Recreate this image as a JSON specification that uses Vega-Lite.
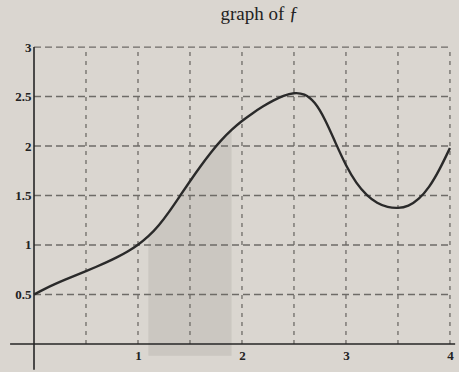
{
  "$schema": "https://vega.github.io/schema/vega-lite/v6.json",
  "width": 459,
  "height": 342,
  "autosize": {"type": "none"},
  "padding": {"top": 30, "left": 0, "right": 0, "bottom": 0},
  "background": "#dad6d0",
  "config": {
    "view": {"stroke": null},
    "font": "Liberation Serif"
  },
  "title": {
    "text": "graph of ƒ",
    "font": "Liberation Serif",
    "fontSize": 19,
    "fontWeight": "normal",
    "color": "#222222",
    "anchor": "middle",
    "dx": 30,
    "offset": 6
  },
  "datasets": {
    "curve": [
      {"x": 0.0, "y": 0.50}, {"x": 0.1, "y": 0.555}, {"x": 0.2, "y": 0.605},
      {"x": 0.3, "y": 0.65}, {"x": 0.4, "y": 0.693}, {"x": 0.5, "y": 0.736},
      {"x": 0.6, "y": 0.78}, {"x": 0.7, "y": 0.826}, {"x": 0.8, "y": 0.876},
      {"x": 0.9, "y": 0.933}, {"x": 1.0, "y": 1.0}, {"x": 1.1, "y": 1.085},
      {"x": 1.2, "y": 1.195}, {"x": 1.3, "y": 1.335}, {"x": 1.4, "y": 1.49},
      {"x": 1.5, "y": 1.645}, {"x": 1.6, "y": 1.795}, {"x": 1.7, "y": 1.935},
      {"x": 1.8, "y": 2.06}, {"x": 1.9, "y": 2.165}, {"x": 2.0, "y": 2.255},
      {"x": 2.1, "y": 2.33}, {"x": 2.2, "y": 2.40}, {"x": 2.3, "y": 2.46},
      {"x": 2.4, "y": 2.51}, {"x": 2.5, "y": 2.54}, {"x": 2.6, "y": 2.53},
      {"x": 2.7, "y": 2.45}, {"x": 2.8, "y": 2.27}, {"x": 2.9, "y": 2.03},
      {"x": 3.0, "y": 1.80}, {"x": 3.1, "y": 1.62}, {"x": 3.2, "y": 1.50},
      {"x": 3.3, "y": 1.42}, {"x": 3.4, "y": 1.38}, {"x": 3.5, "y": 1.37},
      {"x": 3.6, "y": 1.39}, {"x": 3.7, "y": 1.46}, {"x": 3.8, "y": 1.58},
      {"x": 3.9, "y": 1.76}, {"x": 4.0, "y": 1.98}
    ],
    "gridX": [
      {"gx": 0.5}, {"gx": 1}, {"gx": 1.5}, {"gx": 2},
      {"gx": 2.5}, {"gx": 3}, {"gx": 3.5}, {"gx": 4}
    ],
    "gridY": [
      {"gy": 0.5}, {"gy": 1}, {"gy": 1.5}, {"gy": 2}, {"gy": 2.5}, {"gy": 3}
    ]
  },
  "layer": [
    {
      "description": "pencil shading under the curve",
      "data": {"name": "curve"},
      "transform": [{"filter": "datum.x >= 1.05 && datum.x <= 1.9"}],
      "mark": {"type": "area", "color": "#a9a5a0", "opacity": 0.3, "interpolate": "basis"},
      "encoding": {
        "x": {"field": "x", "type": "quantitative", "scale": {"domain": [-0.327, 4.087], "nice": false, "zero": false},
          "axis": {"orient": "bottom", "offset": -28, "values": [1, 2, 3, 4], "format": "~g", "domain": false, "ticks": false, "grid": false, "title": null,
            "labelFont": "Liberation Serif", "labelFontSize": 13, "labelFontWeight": "bold", "labelColor": "#222222", "labelPadding": 5}},
        "y": {"field": "y", "type": "quantitative", "scale": {"domain": [-0.283, 3.172], "nice": false, "zero": false},
          "axis": {"orient": "left", "offset": -34, "values": [0.5, 1, 1.5, 2, 2.5, 3], "format": "~g", "domain": false, "ticks": false, "grid": false, "title": null,
            "labelFont": "Liberation Serif", "labelFontSize": 13, "labelFontWeight": "bold", "labelColor": "#222222", "labelPadding": 3}},
        "y2": {"datum": -0.12}
      }
    },
    {
      "description": "vertical dashed grid",
      "data": {"name": "gridX"},
      "mark": {"type": "rule", "color": "#6e6b67", "strokeWidth": 1.3, "strokeDash": [4, 5]},
      "encoding": {
        "x": {"field": "gx", "type": "quantitative"},
        "y": {"datum": 0},
        "y2": {"datum": 3}
      }
    },
    {
      "description": "horizontal dashed grid",
      "data": {"name": "gridY"},
      "mark": {"type": "rule", "color": "#6e6b67", "strokeWidth": 1.3, "strokeDash": [7, 4]},
      "encoding": {
        "y": {"field": "gy", "type": "quantitative"},
        "x": {"datum": 0},
        "x2": {"datum": 4}
      }
    },
    {
      "description": "x axis line",
      "data": {"values": [{}]},
      "mark": {"type": "rule", "color": "#262626", "strokeWidth": 1.6},
      "encoding": {
        "y": {"datum": 0},
        "x": {"datum": -0.23},
        "x2": {"datum": 4.05}
      }
    },
    {
      "description": "y axis line",
      "data": {"values": [{}]},
      "mark": {"type": "rule", "color": "#262626", "strokeWidth": 1.6},
      "encoding": {
        "x": {"datum": 0},
        "y": {"datum": -0.26},
        "y2": {"datum": 3.0}
      }
    },
    {
      "description": "graph of f",
      "data": {"name": "curve"},
      "mark": {"type": "line", "color": "#2a2a2a", "strokeWidth": 2.4, "interpolate": "basis"},
      "encoding": {
        "x": {"field": "x", "type": "quantitative"},
        "y": {"field": "y", "type": "quantitative"}
      }
    }
  ]
}
